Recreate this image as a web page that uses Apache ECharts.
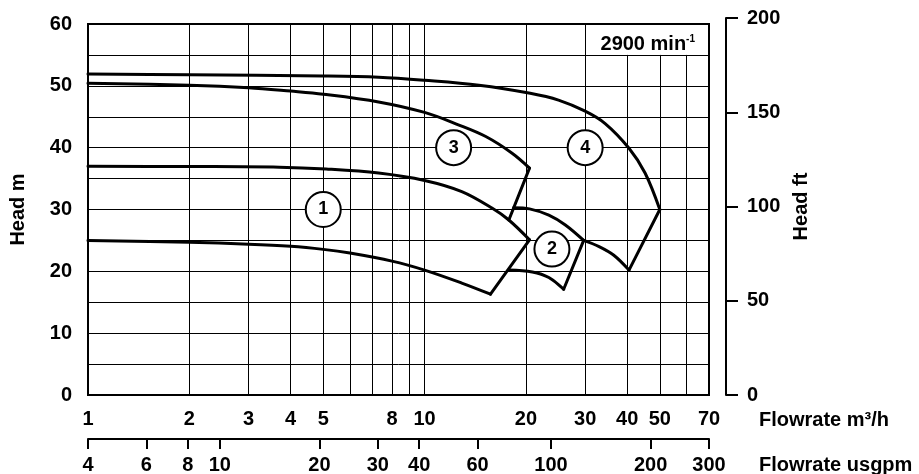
<!DOCTYPE html>
<html>
<head>
<meta charset="utf-8">
<script src="https://cdn.jsdelivr.net/npm/echarts@6/dist/echarts.min.js"></script>
<style>
  html, body { margin: 0; padding: 0; background: #fff; }
  #chart { width: 919px; height: 474px; }
</style>
</head>
<body>
<div id="chart"></div>
<script>
// tick labels
const flowTicks = [1, 2, 3, 4, 5, 8, 10, 20, 30, 40, 50, 70]
const usgTicks = [4, 6, 8, 10, 20, 30, 40, 60, 100, 200, 300]
const gridFull = [2, 3, 4, 5, 6, 7, 8, 9, 10, 20, 30]
const gridShort = [40, 50, 60]

// pump curves [flow m3/h, head m]
const curve4 = [[1, 51.9], [2, 51.8], [5, 51.6], [7.3, 51.4], [10, 50.9], [14.5, 50.1], [20.6, 48.8], [25, 47.7], [30, 45.9], [34.4, 43.9], [40.5, 39.9], [45.2, 35.9], [50, 30]]
const curve3 = [[1, 50.4], [2, 50.1], [3, 49.7], [4, 49.15], [5, 48.65], [7.3, 47.4], [10, 45.7], [12.6, 43.7], [15.2, 41.8], [18.2, 39.1], [20.5, 36.7]]
const curve1top = [[1, 37], [2, 36.95], [3.7, 36.85], [5.1, 36.55], [7.3, 35.9], [10, 34.7], [12.9, 32.9], [15.9, 30.2], [17.8, 28.3], [20.5, 25.1]]
const curve1low = [[1, 25], [2, 24.7], [3, 24.4], [4, 24.05], [5, 23.55], [6, 22.95], [8, 21.65], [10, 20.2], [12.9, 18.1], [15.7, 16.3]]
const curve2top = [[18.4, 30.3], [20.5, 30.1], [23.4, 29.1], [26.2, 27.5], [29.7, 25]]
const curve2low = [[17.8, 20.2], [20.9, 19.9], [23.4, 19], [25.9, 17.1]]
const curve4low = [[29.7, 25], [33, 24], [36.5, 22.6], [40.5, 20.2]]
const end1 = [[15.7, 16.3], [20.5, 25.1]]
const end2 = [[25.9, 17.1], [29.7, 25]]
const end3 = [[20.5, 36.7], [17.8, 28.3]]
const end4 = [[50, 30], [40.5, 20.2]]

// range markers
const markerNames = ['1', '2', '3', '4']
const markerPos = [[5, 30], [23.9, 23.6], [12.2, 40], [30, 40]]

const font = 'Liberation Sans'
const bold = { fontFamily: font, fontWeight: 'bold', color: '#000' }

const chart = echarts.init(document.getElementById('chart'))

const curveSeries = [curve4, curve3, curve1top, curve1low, curve2top, curve2low, curve4low]
  .map(d => ({ type: 'line', data: d, smooth: 0.35 }))
const endSeries = [end1, end2, end3, end4]
  .map(d => ({ type: 'line', data: d, smooth: false }))

const gridLines = gridFull.map(q => [{ coord: [q, 0] }, { coord: [q, 60] }])
  .concat(gridShort.map(q => [{ coord: [q, 0] }, { coord: [q, 55] }]))

const series = curveSeries.concat(endSeries).map(s => Object.assign(s, {
  xAxisIndex: 0,
  yAxisIndex: 0,
  showSymbol: false,
  symbol: 'none',
  silent: true,
  z: 3,
  lineStyle: { color: '#000', width: 3, cap: 'round', join: 'round' }
}))

series.push({
  type: 'line',
  xAxisIndex: 0,
  yAxisIndex: 0,
  data: [],
  silent: true,
  markLine: {
    silent: true,
    symbol: ['none', 'none'],
    z: 1,
    label: { show: false },
    lineStyle: { color: '#000', width: 1, type: 'solid' },
    emphasis: { disabled: true },
    data: gridLines
  }
})

series.push({
  type: 'scatter',
  xAxisIndex: 0,
  yAxisIndex: 0,
  z: 10,
  silent: true,
  symbol: 'circle',
  symbolSize: 35,
  data: markerPos.map((p, i) => ({ name: markerNames[i], value: p })),
  itemStyle: { color: '#fff', borderColor: '#000', borderWidth: 2, opacity: 1 },
  label: Object.assign({ show: true, position: 'inside', fontSize: 18, formatter: p => p.name }, bold)
})

chart.setOption({
  animation: false,
  title: {
    text: '{n|2900 min}{s|-1}',
    right: 219,
    top: 29,
    textStyle: {
      rich: {
        n: Object.assign({ fontSize: 20 }, bold),
        s: Object.assign({ fontSize: 10, verticalAlign: 'top' }, bold)
      }
    }
  },
  grid: [
    { left: 88, right: 210, top: 24, bottom: 79, outerBoundsMode: 'none', show: true, borderColor: '#000', borderWidth: 2, backgroundColor: '#fff' },
    { left: 88, right: 210, top: 18, bottom: 79, outerBoundsMode: 'none', show: false }
  ],
  xAxis: [
    {
      type: 'log',
      logBase: 10,
      gridIndex: 0,
      min: 1,
      max: 70,
      axisLine: { show: false },
      axisTick: { show: false },
      splitLine: { show: false },
      axisLabel: Object.assign({ customValues: flowTicks, margin: 14, fontSize: 20, formatter: v => String(+(+v).toPrecision(3)) }, bold),
      name: '\nFlowrate m³/h',
      nameLocation: 'end',
      nameGap: 50,
      nameTextStyle: Object.assign({ fontSize: 20, lineHeight: 50 }, bold)
    },
    {
      type: 'log',
      logBase: 10,
      gridIndex: 0,
      position: 'bottom',
      offset: 44,
      min: 4,
      max: 300,
      axisLine: { show: true, onZero: false, lineStyle: { color: '#000', width: 2 } },
      axisTick: { show: true, customValues: usgTicks, length: 10, lineStyle: { color: '#000', width: 2 } },
      splitLine: { show: false },
      axisLabel: Object.assign({ customValues: usgTicks, margin: 16, fontSize: 20, formatter: v => String(+(+v).toPrecision(3)) }, bold),
      name: '\nFlowrate usgpm',
      nameLocation: 'end',
      nameGap: 50,
      nameTextStyle: Object.assign({ fontSize: 20, lineHeight: 53 }, bold)
    },
    { type: 'value', gridIndex: 1, min: 0, max: 1, show: false }
  ],
  yAxis: [
    {
      type: 'value',
      gridIndex: 0,
      min: 0,
      max: 60,
      interval: 5,
      axisLine: { show: false },
      axisTick: { show: false },
      splitLine: { show: true, lineStyle: { color: '#000', width: 1 } },
      axisLabel: Object.assign({ margin: 16, fontSize: 20, formatter: v => (v % 10 === 0 ? String(v) : '') }, bold),
      name: 'Head m',
      nameLocation: 'middle',
      nameRotate: 90,
      nameGap: 60,
      nameTextStyle: Object.assign({ fontSize: 20 }, bold)
    },
    {
      type: 'value',
      gridIndex: 1,
      position: 'right',
      offset: 17,
      min: 0,
      max: 200,
      interval: 50,
      axisLine: { show: true, onZero: false, lineStyle: { color: '#000', width: 2 } },
      axisTick: { show: true, length: 12, lineStyle: { color: '#000', width: 2 } },
      splitLine: { show: false },
      axisLabel: Object.assign({ margin: 21, fontSize: 20 }, bold),
      name: 'Head ft',
      nameLocation: 'middle',
      nameRotate: 90,
      nameGap: 62,
      nameTextStyle: Object.assign({ fontSize: 20 }, bold)
    }
  ],
  series: series
})
</script>
</body>
</html>
